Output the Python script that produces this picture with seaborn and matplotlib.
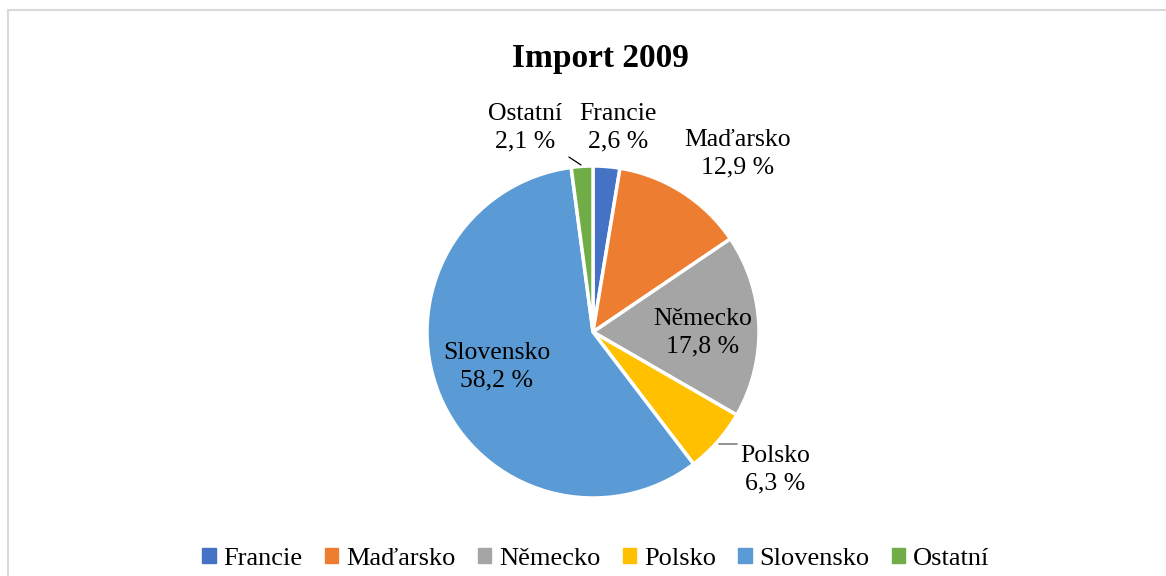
import matplotlib
matplotlib.use("Agg")
import matplotlib.pyplot as plt
import matplotlib.patches as mpatches
import seaborn as sns

sns.set_theme(style="white")
plt.rcParams["font.family"] = ["Liberation Serif", "DejaVu Serif"]
plt.rcParams["text.color"] = "black"

# data
countries = ["Francie", "Maďarsko", "Německo", "Polsko", "Slovensko", "Ostatní"]
shares = [2.6, 12.9, 17.8, 6.3, 58.2, 2.1]
colors = ["#4472C4", "#ED7D31", "#A5A5A5", "#FFC000", "#5B9BD5", "#70AD47"]
title = "Import 2009"

# label placement, in pie-radius units
label_pos = [(0.15, 1.23), (0.87, 1.075), (0.66, -0.005), (1.10, -0.83), (-0.58, -0.21), (-0.41, 1.23)]

fig = plt.figure(figsize=(11.66, 5.76), dpi=100)
ax = fig.add_axes([0, 0, 1, 1])

wedges, _ = ax.pie(shares, colors=colors, startangle=90, counterclock=False,
                   radius=1, wedgeprops=dict(edgecolor="white", linewidth=2.5))

# radius = 166 px, centre at (593, 332) px
ax.set_xlim(-593 / 166, (1166 - 593) / 166)
ax.set_ylim(-(576 - 332) / 166, 332 / 166)
ax.set_aspect("equal")
ax.axis("off")

for name, val, (x, y) in zip(countries, shares, label_pos):
    txt = f"{name}\n{val:.1f} %".replace(".", ",")
    ax.text(x, y, txt, ha="center", va="center", fontsize=18.5, linespacing=1.32, color="black")

# leader lines
ax.plot([-0.145, -0.072], [1.054, 1.006], color="black", lw=0.9)
ax.plot([0.759, 0.865], [-0.675, -0.675], color="#808080", lw=1.2)

fig.text(600 / 1166, 1 - 59 / 576, title, ha="center", va="center",
         fontsize=24, fontweight="bold", color="black")

handles = [mpatches.Patch(color=c, label=n) for c, n in zip(colors, countries)]
fig.legend(handles=handles, loc="center", ncol=6, bbox_to_anchor=(596 / 1166, 1 - 559 / 576),
           frameon=False, fontsize=19, handlelength=0.5, handleheight=0.5,
           handletextpad=0.3, columnspacing=0.85, labelcolor="black")

border = mpatches.Rectangle((8 / 1166, -0.1), 1.2, 0.1 + 1 - 10 / 576, transform=fig.transFigure,
                            fill=False, edgecolor="#d9d9d9", linewidth=1.5, clip_on=False)
fig.patches.append(border)

fig.savefig("out.png", dpi=100)
